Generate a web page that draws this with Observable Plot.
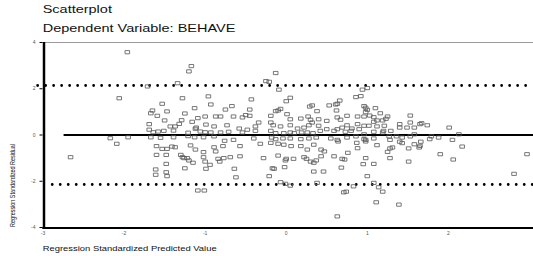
<!DOCTYPE html>
<html><head><meta charset="utf-8">
<script src="https://cdn.jsdelivr.net/npm/d3@7"></script>
<script src="https://cdn.jsdelivr.net/npm/@observablehq/plot@0.6"></script>
<style>body{margin:0;background:#fff} #chart svg{display:block}</style>
</head><body><div id="chart"></div>
<script>
const titleText = "Scatterplot";
const subtitleText = "Dependent Variable: BEHAVE";
const xLabel = "Regression Standardized Predicted Value";
const yLabel = "Regression Standardized Residual";
const xTicks = [-3, -2, -1, 0, 1, 2];
const yTicks = [-4, -2, 0, 2, 4];
const xDomain = [-3, 3.05];
const yDomain = [-4, 4];
const upperBound = 2.14, lowerBound = -2.14;
const upperStart = -3.06, lowerStart = -2.88, zeroStart = -2.74;

const predicted = [
-1.96,-1.17,-1.20,-1.34,-1.71,-2.06,-1.28,-0.96,-1.53,-1.65,
-1.67,-1.47,-1.13,-1.25,-1.59,-1.00,-1.09,-1.50,-1.29,-1.69,
-1.32,-1.16,-0.99,-1.43,-1.37,-1.11,-1.69,-1.64,-1.58,-1.51,
-1.39,-1.12,-1.06,-1.00,-1.21,-2.17,-1.95,-1.67,-1.55,-1.39,
-1.21,-1.13,-1.02,-2.09,-1.60,-1.53,-1.47,-1.41,-1.37,-1.18,
-1.12,-1.02,-2.66,-1.60,-1.48,-1.30,-1.28,-1.26,-1.22,-1.20,
-1.15,-1.02,-1.00,-1.48,-1.25,-1.61,-1.61,-1.48,-1.47,-0.99,
-1.09,-1.01,-0.13,-0.25,-0.21,-0.09,-0.43,-0.93,-0.67,-0.75,
0.05,0.00,0.32,0.29,0.66,0.63,0.61,0.86,0.92,0.53,
-0.07,-0.13,-0.10,-0.45,0.62,0.38,0.96,0.98,1.00,-0.87,
-0.81,-0.65,-0.54,-0.50,-0.45,-0.19,0.01,0.05,0.18,0.27,
0.30,0.40,0.50,0.63,0.67,0.75,0.88,0.96,-0.89,-0.73,
-0.58,-0.48,-0.38,-0.34,-0.19,-0.16,-0.07,0.05,0.14,0.22,
0.28,0.32,0.40,0.50,0.63,0.69,0.75,0.81,0.88,0.96,
-0.93,-0.81,-0.71,-0.54,-0.38,-0.19,-0.13,-0.03,0.05,0.10,
0.19,0.26,0.33,0.42,0.59,0.73,0.80,0.90,-0.89,-0.76,
-0.65,-0.40,-0.18,-0.13,-0.04,0.05,0.18,0.28,0.37,0.55,
0.63,0.75,0.86,0.96,-0.89,-0.78,-0.57,-0.32,-0.19,-0.10,
-0.03,0.06,0.18,0.26,0.34,0.43,0.64,0.87,0.88,0.98,
-0.87,-0.84,-0.82,-0.77,-0.69,-0.57,-0.28,-0.10,0.00,-0.01,
0.09,0.22,0.25,0.30,0.34,0.37,0.43,0.47,0.59,0.69,
0.72,0.76,0.95,0.98,-0.94,-0.64,-0.17,-0.15,-0.02,0.34,
0.46,0.68,1.00,-0.62,-0.21,-0.07,-0.01,0.05,0.38,0.83,
0.71,0.74,0.63,0.94,1.00,1.10,1.16,1.25,1.53,0.98,
1.03,1.08,1.12,1.19,1.23,1.08,1.02,1.12,1.21,1.20,
1.29,1.40,1.40,1.49,1.58,1.65,1.74,2.01,1.53,1.67,
0.96,1.08,1.19,1.27,1.36,1.43,1.53,1.58,1.79,1.88,
2.05,2.13,0.98,1.08,1.28,1.40,1.43,1.58,1.66,1.65,
1.77,1.12,1.28,1.31,1.25,1.51,1.64,2.17,1.90,2.97,
1.28,2.06,1.08,2.81,1.08,1.14,1.19,1.11,1.39,1.51
];
const residual = [
3.58,2.98,2.75,2.24,2.10,1.59,1.59,1.67,1.35,1.06,
0.94,1.02,1.16,0.93,0.83,0.80,0.73,0.63,0.64,0.47,
0.48,0.57,0.45,0.37,0.37,0.32,0.23,0.12,0.15,0.18,
0.19,0.27,0.15,0.12,0.10,-0.14,-0.10,-0.10,-0.12,-0.10,
-0.05,-0.10,-0.10,-0.38,-0.48,-0.60,-0.60,-0.50,-0.53,-0.45,
-0.63,-0.74,-0.96,-0.86,-0.86,-0.86,-0.96,-1.00,-1.00,-1.10,
-1.20,-0.96,-1.15,-1.25,-1.44,-1.49,-1.72,-1.61,-1.78,-1.46,
-2.40,-2.40,2.68,2.33,2.30,1.96,1.54,1.32,1.25,1.10,
1.61,1.46,1.28,1.23,1.49,1.35,1.32,1.64,1.68,1.28,
1.13,1.03,1.06,1.10,1.06,1.03,1.25,1.18,1.09,0.80,
0.80,0.80,0.76,0.86,0.83,0.83,0.90,0.68,0.71,0.80,
0.66,0.68,0.61,0.76,0.66,0.83,0.80,0.80,0.37,0.42,
0.28,0.23,0.37,0.54,0.54,0.42,0.37,0.42,0.28,0.32,
0.42,0.54,0.40,0.25,0.25,0.32,0.42,0.28,0.47,0.40,
0.11,0.11,0.14,0.11,0.18,0.18,0.08,0.08,0.11,0.08,
0.11,0.11,0.08,0.18,0.18,0.14,0.18,0.25,-0.06,-0.25,
-0.21,-0.15,-0.11,-0.18,-0.15,-0.15,-0.18,-0.15,-0.11,-0.15,
-0.21,-0.11,-0.06,-0.18,-0.53,-0.48,-0.48,-0.38,-0.34,-0.38,
-0.42,-0.48,-0.48,-0.63,-0.42,-0.63,-0.28,-0.34,-0.57,-0.28,
-0.71,-1.03,-1.15,-1.00,-0.96,-0.92,-1.00,-0.89,-1.03,-1.10,
-1.03,-0.96,-1.03,-1.15,-1.20,-1.10,-0.92,-0.71,-0.92,-1.03,
-1.06,-0.77,-1.26,-1.00,-1.29,-1.46,-1.44,-1.46,-1.39,-1.58,
-1.58,-1.41,-1.78,-1.83,-1.78,-2.04,-2.11,-2.19,-2.07,-2.22,
-2.48,-2.45,-3.52,1.96,2.03,1.16,0.94,0.80,0.84,0.99,
0.84,0.77,0.63,0.63,0.70,0.57,0.40,0.37,0.40,0.18,
0.18,0.47,0.32,0.32,0.32,0.47,0.42,0.32,0.54,0.51,
0.03,0.14,0.11,-0.06,-0.06,-0.11,-0.06,0.03,-0.06,-0.11,
-0.21,0.03,-0.21,-0.15,-0.21,-0.29,-0.35,-0.40,-0.29,-0.47,
-0.18,-0.44,-0.58,-0.54,-0.73,-0.58,-0.54,-0.50,-0.83,-0.83,
-1.00,-1.06,-1.25,-1.68,-2.07,-2.26,-2.45,-2.91,-3.01,-1.15
];

const points = predicted.map((x, i) => ({x, y: residual[i]}));
const boxSymbol = {draw(ctx) { ctx.rect(-2.3, -1.6, 4.6, 3.2); }};
const font = "'Liberation Sans', Arial, sans-serif";

const chart = Plot.plot({
  width: 533, height: 256,
  marginLeft: 42.5, marginRight: 0, marginTop: 42, marginBottom: 29,
  style: {fontFamily: font, background: "#fff", color: "#000", overflow: "visible"},
  x: {domain: xDomain},
  y: {domain: yDomain},
  marks: [
    Plot.ruleY([yDomain[1]], {stroke: "#9a9a9a", strokeWidth: 1}),
    Plot.ruleY([upperBound], {x1: upperStart, x2: xDomain[1], stroke: "#000", strokeWidth: 2.8, strokeDasharray: "0 8", strokeLinecap: "round"}),
    Plot.ruleY([lowerBound], {x1: lowerStart, x2: xDomain[1], stroke: "#000", strokeWidth: 2.8, strokeDasharray: "0 8", strokeLinecap: "round"}),
    Plot.ruleY([0], {x1: zeroStart, x2: xDomain[1], stroke: "#000", strokeWidth: 2}),
    Plot.dot(points, {x: "x", y: "y", symbol: boxSymbol, stroke: "#555", strokeWidth: 0.8, fill: "none"}),
    Plot.ruleX([xDomain[0]], {y1: yDomain[0], y2: yDomain[1], stroke: "#000", strokeWidth: 2.5, dx: 1}),
    Plot.ruleY([yDomain[0]], {stroke: "#000", strokeWidth: 2, dy: 0.5}),
    Plot.axisY(yTicks, {tickSize: 3, tickPadding: 4.5, fontSize: 5, tickFormat: d => String(d), label: null, fill: "#555"}),
    Plot.axisX(xTicks, {tickSize: 2, tickPadding: 1.5, fontSize: 5, tickFormat: d => String(d), label: null, fill: "#555"})
  ]
});
document.getElementById("chart").appendChild(chart);

const svg = d3.select(chart);
function addText(txt, transform, size) {
  svg.append("text")
    .attr("transform", transform)
    .attr("text-anchor", "start")
    .attr("font-family", font)
    .attr("font-size", size)
    .attr("fill", "#111")
    .text(txt);
}
addText(titleText, "translate(42.7,13.2) scale(1.45,1)", 10);
addText(subtitleText, "translate(42.7,32) scale(1.45,1)", 10);
addText(xLabel, "translate(42.7,250.8) scale(1.45,1)", 6.5);
addText(yLabel, "translate(14.5,227) scale(1.45,1) rotate(-90)", 5.4);
</script>
</body></html>
